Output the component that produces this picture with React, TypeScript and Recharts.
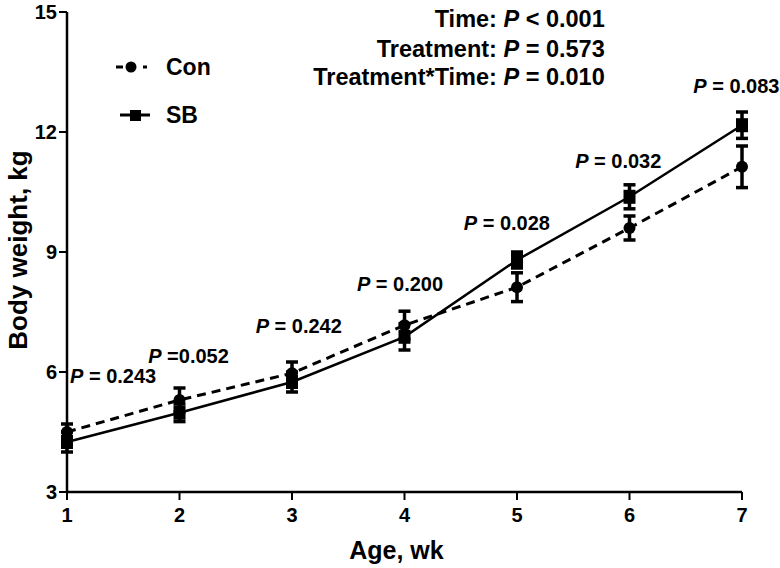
import {
  ComposedChart, Line, XAxis, YAxis, ErrorBar, ReferenceDot,
} from "recharts"

const FONT = "'Liberation Sans', Arial, sans-serif"

const weeks = [1, 2, 3, 4, 5, 6, 7]
const conMean = [4.5, 5.3, 5.97, 7.17, 8.12, 9.6, 11.13]
const conErr = [0.2, 0.3, 0.28, 0.35, 0.36, 0.3, 0.52]
const sbMean = [4.25, 4.98, 5.75, 6.88, 8.8, 10.38, 12.17]
const sbErr = [0.25, 0.22, 0.25, 0.33, 0.2, 0.3, 0.33]

const yTicks = [3, 6, 9, 12, 15]

// per-week P labels, anchored in data units (x = week, y = kg)
const pWeek = [1.41, 2.08, 3.06, 3.96, 4.91, 5.9, 6.95]
const pLevel = [5.72, 6.22, 6.98, 8.03, 9.55, 11.1, 12.98]
const pEq = [" = ", " =", " = ", " = ", " = ", " = ", " = "]
const pVal = ["0.243", "0.052", "0.242", "0.200", "0.028", "0.032", "0.083"]

// overall model results, right aligned block
const statName = ["Time: ", "Treatment: ", "Treatment*Time: "]
const statEq = [" < ", " = ", " = "]
const statVal = ["0.001", "0.573", "0.010"]
const statLevel = [14.62, 13.87, 13.17]
const statX = 5.78

const rows = weeks.map((w, i) => ({
  week: w,
  con: conMean[i],
  conErr: conErr[i],
  sb: sbMean[i],
  sbErr: sbErr[i],
}))

const CircleDot = (props: any) => {
  const { cx, cy } = props
  if (cx == null || cy == null) return null
  return <circle cx={cx} cy={cy} r={6} fill="#000" />
}

const SquareDot = (props: any) => {
  const { cx, cy } = props
  if (cx == null || cy == null) return null
  return <rect x={cx - 6} y={cy - 7} width={12} height={14} fill="#000" />
}

const XTick = (props: any) => {
  const { x, y, payload } = props
  return (
    <text x={x} y={y + 14} textAnchor="middle" fontSize={20} fontWeight={700} fontFamily={FONT} fill="#000">
      {payload.value}
    </text>
  )
}

const YTick = (props: any) => {
  const { x, y, payload } = props
  return (
    <text x={x} y={y} textAnchor="end" dominantBaseline="central" fontSize={20} fontWeight={700} fontFamily={FONT} fill="#000">
      {payload.value}
    </text>
  )
}

function LegendBox() {
  return (
    <div style={{ fontFamily: FONT, fontWeight: 700, fontSize: 23, color: "#000" }}>
      <div style={{ display: "flex", alignItems: "center", height: 30 }}>
        <svg width={40} height={20}>
          <line x1={0} y1={10} x2={7} y2={10} stroke="#000" strokeWidth={3} />
          <circle cx={15} cy={10} r={5.5} fill="#000" />
          <line x1={27} y1={10} x2={31} y2={10} stroke="#000" strokeWidth={3} />
        </svg>
        <span style={{ marginLeft: 10 }}>Con</span>
      </div>
      <div style={{ display: "flex", alignItems: "center", height: 30, marginTop: 18 }}>
        <svg width={40} height={20}>
          <line x1={4} y1={10} x2={34} y2={10} stroke="#000" strokeWidth={3} />
          <rect x={14} y={5} width={11} height={11} fill="#000" />
        </svg>
        <span style={{ marginLeft: 10 }}>SB</span>
      </div>
    </div>
  )
}

export default function App() {
  return (
    <div style={{ position: "absolute", left: 0, top: 0, width: 780, height: 568, background: "#fff" }}>
      <ComposedChart
        width={780}
        height={568}
        data={rows}
        margin={{ top: 12, right: 38, bottom: 0, left: 0 }}
      >
        <XAxis
          dataKey="week"
          type="number"
          domain={[1, 7]}
          ticks={weeks}
          height={76}
          axisLine={{ stroke: "#000", strokeWidth: 2.5 }}
          tickLine={{ stroke: "#000", strokeWidth: 2 }}
          tickSize={8}
          tickMargin={8}
          tick={<XTick />}
          label={{
            content: (p: any) => {
              const vb = p.viewBox
              return (
                <text
                  x={vb.x + vb.width / 2 - 8}
                  y={vb.y + 67}
                  textAnchor="middle"
                  fontSize={25}
                  fontWeight={700}
                  fontFamily={FONT}
                  fill="#000"
                >
                  Age, wk
                </text>
              )
            },
          }}
        />
        <YAxis
          type="number"
          domain={[3, 15]}
          ticks={yTicks}
          width={67}
          axisLine={{ stroke: "#000", strokeWidth: 2.5 }}
          tickLine={{ stroke: "#000", strokeWidth: 2 }}
          tickSize={8}
          tickMargin={2}
          tick={<YTick />}
          label={{
            content: (p: any) => {
              const vb = p.viewBox
              const cx = vb.x + 18
              const cy = vb.y + vb.height / 2 - 2
              return (
                <text
                  x={cx}
                  y={cy}
                  transform={`rotate(-90 ${cx} ${cy})`}
                  textAnchor="middle"
                  dominantBaseline="central"
                  fontSize={26}
                  fontWeight={700}
                  fontFamily={FONT}
                  fill="#000"
                >
                  Body weight, kg
                </text>
              )
            },
          }}
        />

        <Line
          dataKey="con"
          name="Con"
          stroke="#000"
          strokeWidth={3}
          strokeDasharray="9 6"
          dot={<CircleDot />}
          activeDot={false}
          isAnimationActive={false}
        >
          <ErrorBar dataKey="conErr" width={6} strokeWidth={3.5} stroke="#000" direction="y" />
        </Line>
        <Line
          dataKey="sb"
          name="SB"
          stroke="#000"
          strokeWidth={2.5}
          dot={<SquareDot />}
          activeDot={false}
          isAnimationActive={false}
        >
          <ErrorBar dataKey="sbErr" width={6} strokeWidth={3.5} stroke="#000" direction="y" />
        </Line>

        {pVal.map((v, i) => (
          <ReferenceDot
            key={`p-${i}`}
            x={pWeek[i]}
            y={pLevel[i]}
            r={0}
            ifOverflow="visible"
            shape={(s: any) => (
              <text
                x={s.cx}
                y={s.cy}
                textAnchor="middle"
                fontSize={20}
                fontWeight={700}
                fontFamily={FONT}
                fill="#000"
              >
                <tspan fontStyle="italic">P</tspan>
                <tspan>{pEq[i]}{v}</tspan>
              </text>
            )}
          />
        ))}

        {statVal.map((v, i) => (
          <ReferenceDot
            key={`s-${i}`}
            x={statX}
            y={statLevel[i]}
            r={0}
            ifOverflow="visible"
            shape={(s: any) => (
              <text
                x={s.cx}
                y={s.cy}
                textAnchor="end"
                fontSize={23.5}
                fontWeight={700}
                fontFamily={FONT}
                fill="#000"
                style={{ whiteSpace: "pre" }}
              >
                <tspan>{statName[i]}</tspan>
                <tspan fontStyle="italic">P</tspan>
                <tspan>{statEq[i]}{v}</tspan>
              </text>
            )}
          />
        ))}
      </ComposedChart>
      <div style={{ position: "absolute", left: 116, top: 52 }}>
        <LegendBox />
      </div>
    </div>
  )
}
